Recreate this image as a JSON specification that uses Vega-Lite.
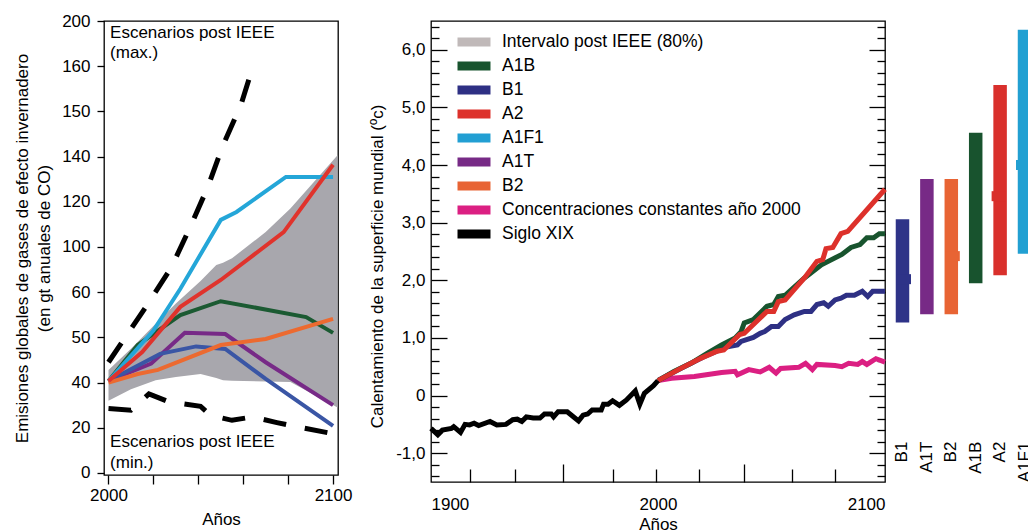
{
  "$schema": "https://vega.github.io/schema/vega-lite/v6.json",
  "background": "white",
  "padding": {"left": 12, "top": 11, "right": 0, "bottom": 0},
  "config": {
    "font": "Liberation Sans",
    "view": {"stroke": "black", "strokeWidth": 1.3},
    "axis": {"labelFont": "Liberation Sans", "labelFontSize": 17, "labelColor": "black", "titleFont": "Liberation Sans", "titleFontSize": 17, "titleFontWeight": "normal", "titleColor": "black", "tickColor": "black", "tickWidth": 1.3, "domain": false, "grid": false, "labelOverlap": false}
  },
  "resolve": {"scale": {"color": "independent"}, "legend": {"color": "independent"}},
  "spacing": 15,
  "hconcat": [
    {
      "width": 234,
      "height": 454,
      "layer": [
        {
          "data": {"values": [
            {"year": 2000, "lo": 32, "hi": 45.6},
            {"year": 2010, "lo": 37, "hi": 55},
            {"year": 2021, "lo": 41, "hi": 66},
            {"year": 2030, "lo": 42.5, "hi": 75},
            {"year": 2041, "lo": 43.8, "hi": 85},
            {"year": 2048, "lo": 42, "hi": 92},
            {"year": 2051, "lo": 41, "hi": 93},
            {"year": 2055, "lo": 40.8, "hi": 95},
            {"year": 2070, "lo": 40.5, "hi": 106.6},
            {"year": 2081, "lo": 40.3, "hi": 117},
            {"year": 2102, "lo": 29, "hi": 140.6}
          ]},
          "mark": {"type": "area", "color": "#a8a7ad"},
          "encoding": {
            "x": {"field": "year", "type": "quantitative", "scale": {"domain": [1998, 2102.2], "nice": false, "zero": false},
              "axis": {"orient": "bottom", "values": [2000, 2010, 2020, 2030, 2040, 2050, 2060, 2070, 2080, 2090, 2100], "format": "d", "labelExpr": "datum.value == 2000 || datum.value == 2100 ? datum.label : ''", "labelFlush": true, "tickSize": 9, "labelPadding": 3, "title": "Años", "titlePadding": 8}},
            "y": {"field": "lo", "type": "quantitative", "scale": {"domain": [-0.9, 200], "nice": false, "zero": false},
              "axis": {"orient": "left", "values": [0, 20, 40, 60, 80, 100, 120, 140, 160, 180, 200], "labelExpr": "datum.value == 60 ? '50' : datum.value == 80 ? '60' : datum.value == 160 ? '150' : datum.value == 180 ? '160' : datum.label", "tickSize": 7, "labelPadding": 7, "title": ["Emisiones globales de gases de efecto invernadero", "(en gt anuales de CO)"], "titleLineHeight": 22, "titlePadding": 8}},
            "y2": {"field": "hi"}
          }
        },
        {
          "data": {"values": [
            {"s": "max", "year": 2000, "v": 49},
            {"s": "max", "year": 2017, "v": 74},
            {"s": "max", "year": 2028, "v": 91},
            {"s": "max", "year": 2036, "v": 108},
            {"s": "max", "year": 2044, "v": 126},
            {"s": "max", "year": 2051, "v": 145},
            {"s": "max", "year": 2059, "v": 163},
            {"s": "max", "year": 2065, "v": 182},
            {"s": "min", "year": 2000, "v": 28.5},
            {"s": "min", "year": 2010, "v": 27.8},
            {"s": "min", "year": 2018, "v": 35},
            {"s": "min", "year": 2027, "v": 31.4},
            {"s": "min", "year": 2041, "v": 29.5},
            {"s": "min", "year": 2045.5, "v": 25.5},
            {"s": "min", "year": 2055, "v": 23.3},
            {"s": "min", "year": 2064, "v": 24.8},
            {"s": "min", "year": 2075, "v": 22.3},
            {"s": "min", "year": 2084, "v": 20.4},
            {"s": "min", "year": 2101.5, "v": 17.1}
          ]},
          "mark": {"type": "line", "color": "black", "strokeWidth": 5, "strokeDash": [23, 19]},
          "encoding": {
            "x": {"field": "year", "type": "quantitative"},
            "y": {"field": "v", "type": "quantitative"},
            "detail": {"field": "s"}
          }
        },
        {
          "data": {"values": [
            {"esc": "A1B", "year": 2000, "v": 40.7}, {"esc": "A1B", "year": 2013, "v": 56.6}, {"esc": "A1B", "year": 2020, "v": 61.5}, {"esc": "A1B", "year": 2032, "v": 69.9}, {"esc": "A1B", "year": 2050, "v": 76}, {"esc": "A1B", "year": 2088, "v": 69}, {"esc": "A1B", "year": 2100, "v": 62},
            {"esc": "A1T", "year": 2000, "v": 40.7}, {"esc": "A1T", "year": 2019, "v": 48.4}, {"esc": "A1T", "year": 2034, "v": 62}, {"esc": "A1T", "year": 2052, "v": 61.5}, {"esc": "A1T", "year": 2070, "v": 49}, {"esc": "A1T", "year": 2100, "v": 30},
            {"esc": "B1", "year": 2000, "v": 40.7}, {"esc": "B1", "year": 2023, "v": 52.7}, {"esc": "B1", "year": 2039, "v": 56}, {"esc": "B1", "year": 2052, "v": 54.9}, {"esc": "B1", "year": 2070, "v": 41.6}, {"esc": "B1", "year": 2100, "v": 20.8},
            {"esc": "B2", "year": 2000, "v": 40}, {"esc": "B2", "year": 2013, "v": 43.8}, {"esc": "B2", "year": 2022, "v": 45.6}, {"esc": "B2", "year": 2050, "v": 56.6}, {"esc": "B2", "year": 2070, "v": 59.3}, {"esc": "B2", "year": 2100, "v": 68.2},
            {"esc": "A1F1", "year": 2000, "v": 40.7}, {"esc": "A1F1", "year": 2020, "v": 63}, {"esc": "A1F1", "year": 2032, "v": 81.5}, {"esc": "A1F1", "year": 2050, "v": 112}, {"esc": "A1F1", "year": 2057, "v": 115.5}, {"esc": "A1F1", "year": 2079, "v": 131}, {"esc": "A1F1", "year": 2100, "v": 131},
            {"esc": "A2", "year": 2000, "v": 40.7}, {"esc": "A2", "year": 2015, "v": 53.5}, {"esc": "A2", "year": 2032, "v": 73.5}, {"esc": "A2", "year": 2050, "v": 85.4}, {"esc": "A2", "year": 2078, "v": 106.6}, {"esc": "A2", "year": 2100, "v": 136.4}
          ]},
          "mark": {"type": "line", "strokeWidth": 4},
          "encoding": {
            "x": {"field": "year", "type": "quantitative"},
            "y": {"field": "v", "type": "quantitative"},
            "color": {"field": "esc", "type": "nominal", "scale": {"domain": ["A1B", "A1T", "B1", "B2", "A1F1", "A2"], "range": ["#1b5a32", "#772a87", "#3a56a5", "#ec6a30", "#24a6d8", "#e0332c"]}, "legend": null}
          }
        },
        {
          "data": {"values": [
            {"t": "Escenarios post IEEE", "year": 2000.7, "v": 194.7},
            {"t": "(max.)", "year": 2000.7, "v": 185.8},
            {"t": "Escenarios post IEEE", "year": 2000.7, "v": 13.7},
            {"t": "(min.)", "year": 2000.7, "v": 4.4}
          ]},
          "mark": {"type": "text", "align": "left", "baseline": "middle", "fontSize": 17, "color": "black"},
          "encoding": {
            "x": {"field": "year", "type": "quantitative"},
            "y": {"field": "v", "type": "quantitative"},
            "text": {"field": "t"}
          }
        }
      ]
    },
    {
      "spacing": -5,
      "resolve": {"scale": {"color": "independent"}, "legend": {"color": "independent"}},
      "hconcat": [
        {
          "width": 454,
          "height": 461,
          "data": {"values": [
            {"esc": "Siglo XIX", "year": 1900, "v": -0.57}, {"esc": "Siglo XIX", "year": 1903, "v": -0.68}, {"esc": "Siglo XIX", "year": 1905, "v": -0.6}, {"esc": "Siglo XIX", "year": 1909, "v": -0.57}, {"esc": "Siglo XIX", "year": 1910, "v": -0.54}, {"esc": "Siglo XIX", "year": 1913, "v": -0.64}, {"esc": "Siglo XIX", "year": 1915, "v": -0.5}, {"esc": "Siglo XIX", "year": 1917, "v": -0.51}, {"esc": "Siglo XIX", "year": 1919, "v": -0.48}, {"esc": "Siglo XIX", "year": 1921, "v": -0.52}, {"esc": "Siglo XIX", "year": 1926, "v": -0.45}, {"esc": "Siglo XIX", "year": 1929, "v": -0.51}, {"esc": "Siglo XIX", "year": 1933, "v": -0.5}, {"esc": "Siglo XIX", "year": 1936, "v": -0.42}, {"esc": "Siglo XIX", "year": 1938, "v": -0.41}, {"esc": "Siglo XIX", "year": 1940, "v": -0.45}, {"esc": "Siglo XIX", "year": 1942, "v": -0.37}, {"esc": "Siglo XIX", "year": 1945, "v": -0.39}, {"esc": "Siglo XIX", "year": 1948, "v": -0.39}, {"esc": "Siglo XIX", "year": 1950, "v": -0.32}, {"esc": "Siglo XIX", "year": 1953, "v": -0.32}, {"esc": "Siglo XIX", "year": 1954, "v": -0.37}, {"esc": "Siglo XIX", "year": 1956, "v": -0.28}, {"esc": "Siglo XIX", "year": 1960, "v": -0.28}, {"esc": "Siglo XIX", "year": 1965, "v": -0.44}, {"esc": "Siglo XIX", "year": 1967, "v": -0.34}, {"esc": "Siglo XIX", "year": 1969, "v": -0.32}, {"esc": "Siglo XIX", "year": 1971, "v": -0.25}, {"esc": "Siglo XIX", "year": 1975, "v": -0.25}, {"esc": "Siglo XIX", "year": 1976, "v": -0.15}, {"esc": "Siglo XIX", "year": 1978, "v": -0.15}, {"esc": "Siglo XIX", "year": 1980, "v": -0.09}, {"esc": "Siglo XIX", "year": 1983, "v": -0.17}, {"esc": "Siglo XIX", "year": 1986, "v": -0.08}, {"esc": "Siglo XIX", "year": 1990, "v": 0.08}, {"esc": "Siglo XIX", "year": 1992, "v": -0.15}, {"esc": "Siglo XIX", "year": 1994, "v": 0.04}, {"esc": "Siglo XIX", "year": 1998, "v": 0.17}, {"esc": "Siglo XIX", "year": 2000, "v": 0.26},
            {"esc": "Concentraciones constantes año 2000", "year": 2000, "v": 0.26}, {"esc": "Concentraciones constantes año 2000", "year": 2006, "v": 0.3}, {"esc": "Concentraciones constantes año 2000", "year": 2016, "v": 0.33}, {"esc": "Concentraciones constantes año 2000", "year": 2028, "v": 0.4}, {"esc": "Concentraciones constantes año 2000", "year": 2034, "v": 0.42}, {"esc": "Concentraciones constantes año 2000", "year": 2035, "v": 0.36}, {"esc": "Concentraciones constantes año 2000", "year": 2040, "v": 0.45}, {"esc": "Concentraciones constantes año 2000", "year": 2045, "v": 0.41}, {"esc": "Concentraciones constantes año 2000", "year": 2049, "v": 0.49}, {"esc": "Concentraciones constantes año 2000", "year": 2052, "v": 0.39}, {"esc": "Concentraciones constantes año 2000", "year": 2054, "v": 0.47}, {"esc": "Concentraciones constantes año 2000", "year": 2062, "v": 0.49}, {"esc": "Concentraciones constantes año 2000", "year": 2065, "v": 0.56}, {"esc": "Concentraciones constantes año 2000", "year": 2068, "v": 0.45}, {"esc": "Concentraciones constantes año 2000", "year": 2070, "v": 0.54}, {"esc": "Concentraciones constantes año 2000", "year": 2078, "v": 0.52}, {"esc": "Concentraciones constantes año 2000", "year": 2081, "v": 0.5}, {"esc": "Concentraciones constantes año 2000", "year": 2084, "v": 0.56}, {"esc": "Concentraciones constantes año 2000", "year": 2088, "v": 0.54}, {"esc": "Concentraciones constantes año 2000", "year": 2090, "v": 0.59}, {"esc": "Concentraciones constantes año 2000", "year": 2092, "v": 0.54}, {"esc": "Concentraciones constantes año 2000", "year": 2096, "v": 0.64}, {"esc": "Concentraciones constantes año 2000", "year": 2100, "v": 0.58},
            {"esc": "B1", "year": 2000, "v": 0.26}, {"esc": "B1", "year": 2010, "v": 0.47}, {"esc": "B1", "year": 2020, "v": 0.67}, {"esc": "B1", "year": 2030, "v": 0.84}, {"esc": "B1", "year": 2035, "v": 0.88}, {"esc": "B1", "year": 2036.6, "v": 0.94}, {"esc": "B1", "year": 2042, "v": 1.01}, {"esc": "B1", "year": 2045, "v": 1.08}, {"esc": "B1", "year": 2047, "v": 1.11}, {"esc": "B1", "year": 2050, "v": 1.2}, {"esc": "B1", "year": 2053, "v": 1.2}, {"esc": "B1", "year": 2056, "v": 1.32}, {"esc": "B1", "year": 2060, "v": 1.4}, {"esc": "B1", "year": 2064.5, "v": 1.46}, {"esc": "B1", "year": 2067.4, "v": 1.46}, {"esc": "B1", "year": 2070, "v": 1.58}, {"esc": "B1", "year": 2073, "v": 1.61}, {"esc": "B1", "year": 2075, "v": 1.55}, {"esc": "B1", "year": 2078, "v": 1.66}, {"esc": "B1", "year": 2080.6, "v": 1.69}, {"esc": "B1", "year": 2083, "v": 1.74}, {"esc": "B1", "year": 2086.5, "v": 1.74}, {"esc": "B1", "year": 2090, "v": 1.81}, {"esc": "B1", "year": 2092.4, "v": 1.72}, {"esc": "B1", "year": 2094.6, "v": 1.81}, {"esc": "B1", "year": 2100, "v": 1.81},
            {"esc": "A1B", "year": 2000, "v": 0.26}, {"esc": "A1B", "year": 2007, "v": 0.42}, {"esc": "A1B", "year": 2014.5, "v": 0.56}, {"esc": "A1B", "year": 2022, "v": 0.74}, {"esc": "A1B", "year": 2028, "v": 0.88}, {"esc": "A1B", "year": 2034, "v": 1.0}, {"esc": "A1B", "year": 2036.6, "v": 1.11}, {"esc": "A1B", "year": 2038, "v": 1.26}, {"esc": "A1B", "year": 2042, "v": 1.32}, {"esc": "A1B", "year": 2048, "v": 1.55}, {"esc": "A1B", "year": 2051, "v": 1.58}, {"esc": "A1B", "year": 2053, "v": 1.72}, {"esc": "A1B", "year": 2056, "v": 1.74}, {"esc": "A1B", "year": 2064.5, "v": 2.04}, {"esc": "A1B", "year": 2072, "v": 2.27}, {"esc": "A1B", "year": 2081, "v": 2.45}, {"esc": "A1B", "year": 2085, "v": 2.57}, {"esc": "A1B", "year": 2089, "v": 2.62}, {"esc": "A1B", "year": 2092, "v": 2.74}, {"esc": "A1B", "year": 2095, "v": 2.74}, {"esc": "A1B", "year": 2097.5, "v": 2.81}, {"esc": "A1B", "year": 2100, "v": 2.81},
            {"esc": "A2", "year": 2000, "v": 0.26}, {"esc": "A2", "year": 2009, "v": 0.45}, {"esc": "A2", "year": 2019, "v": 0.65}, {"esc": "A2", "year": 2026, "v": 0.77}, {"esc": "A2", "year": 2029, "v": 0.79}, {"esc": "A2", "year": 2036, "v": 1.06}, {"esc": "A2", "year": 2038, "v": 1.08}, {"esc": "A2", "year": 2048, "v": 1.46}, {"esc": "A2", "year": 2051, "v": 1.46}, {"esc": "A2", "year": 2053, "v": 1.63}, {"esc": "A2", "year": 2056, "v": 1.66}, {"esc": "A2", "year": 2064.5, "v": 2.04}, {"esc": "A2", "year": 2070, "v": 2.33}, {"esc": "A2", "year": 2072.6, "v": 2.36}, {"esc": "A2", "year": 2074, "v": 2.55}, {"esc": "A2", "year": 2077, "v": 2.57}, {"esc": "A2", "year": 2080.6, "v": 2.81}, {"esc": "A2", "year": 2083.6, "v": 2.85}, {"esc": "A2", "year": 2100, "v": 3.58}
          ]},
          "resolve": {"axis": {"x": "independent", "y": "independent"}},
          "layer": [
            {
              "transform": [{"filter": {"field": "esc", "oneOf": ["Concentraciones constantes año 2000", "B1"]}}],
              "mark": {"type": "line", "strokeWidth": 5},
              "encoding": {
                "x": {"field": "year", "type": "quantitative", "scale": {"domain": [1900, 2100], "nice": false, "zero": false},
                  "axis": {"orient": "bottom", "values": [1900, 2000, 2100], "format": "d", "ticks": false, "labelFlush": true, "labelPadding": 14, "title": "Años", "titlePadding": 4}},
                "y": {"field": "v", "type": "quantitative", "scale": {"domain": [-1.5, 6.5], "nice": false, "zero": false},
                  "axis": {"orient": "left", "values": [-1, 0, 1, 2, 3, 4, 5, 6], "labelExpr": "datum.value == 0 ? '0' : datum.value + ',0'", "tickSize": -16, "labelPadding": 22, "title": "Calentamiento de la superficie mundial (ºc)", "titlePadding": 9, "titleY": 245}},
                "color": {"field": "esc", "type": "nominal",
                  "scale": {"domain": ["Intervalo post IEEE (80%)", "A1B", "B1", "A2", "A1F1", "A1T", "B2", "Concentraciones constantes año 2000", "Siglo XIX"], "range": ["#c0b9b9", "#18542e", "#2e3084", "#dd312b", "#229fd3", "#772a86", "#e86434", "#db1f82", "#000000"]},
                  "legend": {"orient": "none", "legendX": 34, "legendY": 12, "title": null, "symbolType": "M-4,0L4,0", "symbolSize": 68, "symbolStrokeWidth": 9, "labelFont": "Liberation Sans", "labelFontSize": 17.5, "labelColor": "black", "rowPadding": 6, "labelOffset": 19, "padding": 0, "labelLimit": 500,
                    "encode": {"symbols": {"update": {"strokeJoin": {"value": "bevel"}, "strokeCap": {"value": "butt"}}}}}}
              }
            },
            {
              "transform": [{"filter": {"field": "esc", "equal": "A1B"}}],
              "mark": {"type": "line", "strokeWidth": 5},
              "encoding": {
                "x": {"field": "year", "type": "quantitative", "axis": null},
                "y": {"field": "v", "type": "quantitative", "axis": null},
                "color": {"field": "esc", "type": "nominal"}
              }
            },
            {
              "transform": [{"filter": {"field": "esc", "equal": "A2"}}],
              "mark": {"type": "line", "strokeWidth": 5},
              "encoding": {
                "x": {"field": "year", "type": "quantitative", "axis": null},
                "y": {"field": "v", "type": "quantitative", "axis": null},
                "color": {"field": "esc", "type": "nominal"}
              }
            },
            {
              "transform": [{"filter": {"field": "esc", "equal": "Siglo XIX"}}],
              "mark": {"type": "line", "strokeWidth": 5},
              "encoding": {
                "x": {"field": "year", "type": "quantitative", "axis": null},
                "y": {"field": "v", "type": "quantitative", "axis": null},
                "color": {"field": "esc", "type": "nominal"}
              }
            },
            {
              "mark": {"type": "point", "opacity": 0},
              "encoding": {
                "x": {"field": "year", "type": "quantitative", "axis": {"orient": "bottom", "values": [1917, 1937, 1980, 1999, 2018, 2059, 2078], "labels": false, "tickSize": -13, "title": null}},
                "y": {"field": "v", "type": "quantitative", "axis": {"orient": "left", "values": [-1.4, -1.2, -0.8, -0.6, -0.4, -0.2, 0.2, 0.4, 0.6, 0.8, 1.2, 1.4, 1.6, 1.8, 2.2, 2.4, 2.6, 2.8, 3.2, 3.4, 3.6, 3.8, 4.2, 4.4, 4.6, 4.8, 5.2, 5.4, 5.6, 5.8, 6.2, 6.4], "labels": false, "tickSize": -8, "title": null}}
              }
            },
            {
              "mark": {"type": "point", "opacity": 0},
              "encoding": {
                "x": {"field": "year", "type": "quantitative", "axis": {"orient": "bottom", "values": [1958, 2038], "labels": false, "tickSize": -18, "title": null}},
                "y": {"field": "v", "type": "quantitative", "axis": {"orient": "right", "values": [-1, 0, 1, 2, 3, 4, 5, 6], "labels": false, "tickSize": -16, "title": null}}
              }
            },
            {
              "mark": {"type": "point", "opacity": 0},
              "encoding": {
                "x": {"field": "year", "type": "quantitative", "axis": null},
                "y": {"field": "v", "type": "quantitative", "axis": {"orient": "right", "values": [-1.4, -1.2, -0.8, -0.6, -0.4, -0.2, 0.2, 0.4, 0.6, 0.8, 1.2, 1.4, 1.6, 1.8, 2.2, 2.4, 2.6, 2.8, 3.2, 3.4, 3.6, 3.8, 4.2, 4.4, 4.6, 4.8, 5.2, 5.4, 5.6, 5.8, 6.2, 6.4], "labels": false, "tickSize": -8, "title": null}}
              }
            }
          ]
        },
        {
          "width": 135,
          "height": 461,
          "view": {"stroke": null},
          "data": {"values": [
            {"esc": "B1", "lo": 1.27, "hi": 3.06, "best": 2.02, "lado": "der"},
            {"esc": "A1T", "lo": 1.41, "hi": 3.76, "best": null, "lado": null},
            {"esc": "B2", "lo": 1.41, "hi": 3.76, "best": 2.42, "lado": "der"},
            {"esc": "A1B", "lo": 1.95, "hi": 4.56, "best": null, "lado": null},
            {"esc": "A2", "lo": 2.09, "hi": 5.39, "best": 3.46, "lado": "izq"},
            {"esc": "A1F1", "lo": 2.46, "hi": 6.35, "best": 4.0, "lado": "izq"}
          ]},
          "encoding": {
            "x": {"field": "esc", "type": "nominal", "scale": {"type": "point", "domain": ["B1", "A1T", "B2", "A1B", "A2", "A1F1"], "padding": 0.266}, "axis": null},
            "color": {"field": "esc", "type": "nominal", "scale": {"domain": ["B1", "A1T", "B2", "A1B", "A2", "A1F1"], "range": ["#2e3388", "#772a86", "#e86434", "#18532e", "#d9302c", "#22a0d2"]}, "legend": null}
          },
          "layer": [
            {
              "mark": {"type": "bar", "size": 13.5},
              "encoding": {
                "y": {"field": "lo", "type": "quantitative", "scale": {"domain": [-1.5, 6.5], "nice": false, "zero": false}, "axis": null},
                "y2": {"field": "hi"}
              }
            },
            {
              "transform": [{"filter": "datum.lado == 'der'"}],
              "mark": {"type": "tick", "thickness": 10, "size": 14, "xOffset": 1.5, "opacity": 1},
              "encoding": {"y": {"field": "best", "type": "quantitative", "axis": null}}
            },
            {
              "transform": [{"filter": "datum.lado == 'izq'"}],
              "mark": {"type": "tick", "thickness": 10, "size": 14, "xOffset": -1.5, "opacity": 1},
              "encoding": {"y": {"field": "best", "type": "quantitative", "axis": null}}
            },
            {
              "mark": {"type": "text", "angle": 270, "align": "right", "baseline": "middle", "fontSize": 17, "color": "black"},
              "encoding": {
                "y": {"datum": -0.8, "type": "quantitative", "axis": null},
                "text": {"field": "esc"},
                "color": {"value": "black"}
              }
            }
          ]
        }
      ]
    }
  ]
}
